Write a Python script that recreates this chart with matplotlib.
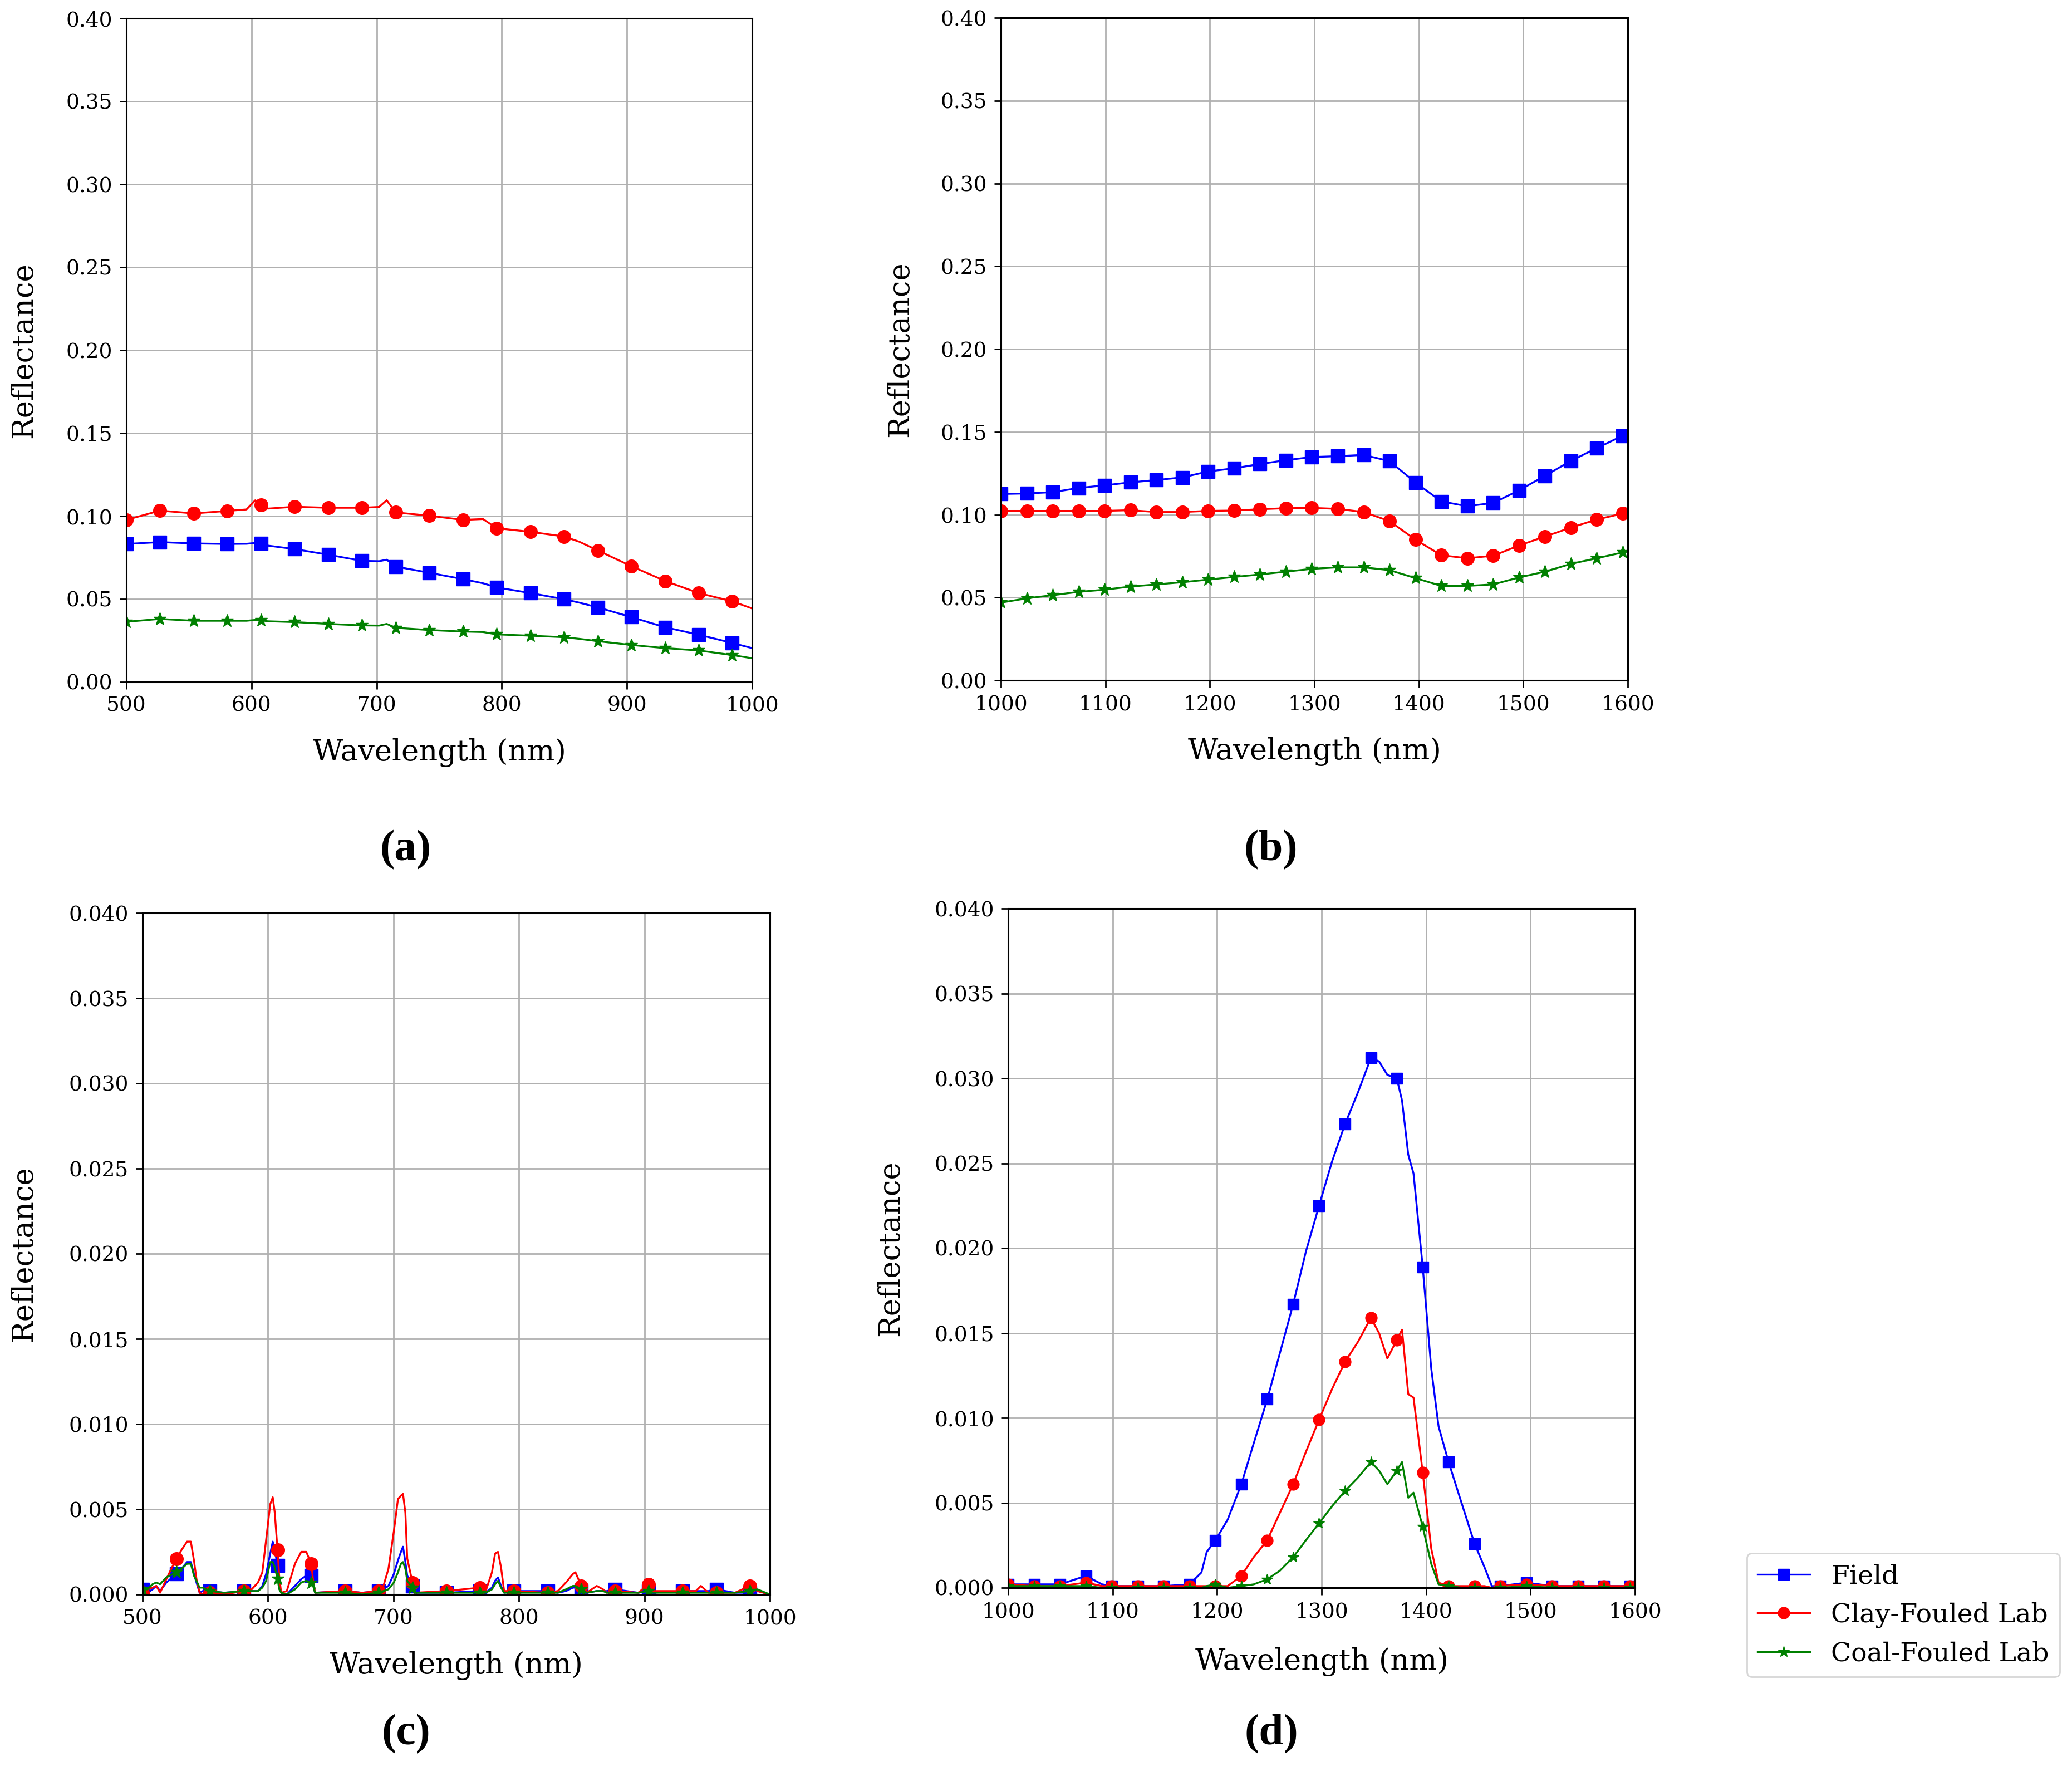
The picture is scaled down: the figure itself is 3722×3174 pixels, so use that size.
import matplotlib
matplotlib.use("Agg")
import matplotlib.pyplot as plt
from matplotlib.ticker import FormatStrFormatter

plt.rcParams['font.family'] = ['DejaVu Serif']

# ---------------- data ----------------
series_names = ["Field", "Clay-Fouled Lab", "Coal-Fouled Lab"]
series_colors = ["blue", "red", "green"]
series_markers = ["s", "o", "*"]

# marker wavelengths
mk_vnir = [500.0, 526.9, 553.8, 580.7, 607.6, 634.5, 661.4, 688.3, 715.2, 742.1,
           769.0, 795.9, 822.8, 849.7, 876.6, 903.5, 930.4, 957.3, 984.2]
mk_swir = [1000.0, 1024.8, 1049.6, 1074.4, 1099.2, 1124.0, 1148.8, 1173.6, 1198.4,
           1223.2, 1248.0, 1272.8, 1297.6, 1322.4, 1347.2, 1372.0, 1396.8, 1421.6,
           1446.4, 1471.2, 1496.0, 1520.8, 1545.6, 1570.4, 1595.2]

# (a) mean reflectance 500-1000 nm
wl_a = [500.0, 526.9, 553.8, 580.7, 596.0, 603.0, 607.6, 613.0, 634.5, 661.4,
        688.3, 702.0, 708.0, 715.2, 742.1, 769.0, 785.0, 795.9, 822.8, 849.7,
        862.0, 876.6, 903.5, 930.4, 957.3, 984.2, 1000.0]
field_a = [0.0832, 0.0843, 0.0835, 0.0832, 0.0833, 0.0838, 0.0835, 0.0822, 0.0801, 0.0767,
           0.0730, 0.0728, 0.0737, 0.0696, 0.0658, 0.0620, 0.0595, 0.0570, 0.0536, 0.0499,
           0.0478, 0.0450, 0.0391, 0.0330, 0.0285, 0.0235, 0.0204]
clay_a = [0.0977, 0.1033, 0.1016, 0.1031, 0.1040, 0.1095, 0.1067, 0.1045, 0.1056, 0.1050,
          0.1050, 0.1055, 0.1095, 0.1022, 0.1002, 0.0977, 0.0982, 0.0927, 0.0905, 0.0877,
          0.0845, 0.0793, 0.0698, 0.0609, 0.0536, 0.0486, 0.0443]
coal_a = [0.0363, 0.0380, 0.0369, 0.0369, 0.0369, 0.0374, 0.0372, 0.0366, 0.0361, 0.0350,
          0.0341, 0.0340, 0.0350, 0.0327, 0.0313, 0.0304, 0.0301, 0.0287, 0.0279, 0.0270,
          0.0260, 0.0246, 0.0223, 0.0204, 0.0190, 0.0162, 0.0143]

# (b) mean reflectance 1000-1600 nm
wl_b = [1000.0, 1024.8, 1049.6, 1074.4, 1099.2, 1124.0, 1148.8, 1173.6, 1198.4,
        1223.2, 1248.0, 1272.8, 1297.6, 1322.4, 1347.2, 1372.0, 1396.8, 1421.6,
        1446.4, 1471.2, 1496.0, 1520.8, 1545.6, 1570.4, 1595.2, 1600.0]
field_b = [0.1125, 0.1128, 0.1136, 0.1161, 0.1177, 0.1195, 0.1209, 0.1225, 0.1261, 0.1280,
           0.1306, 0.1329, 0.1348, 0.1353, 0.1361, 0.1323, 0.1194, 0.1080, 0.1051, 0.1071,
           0.1147, 0.1235, 0.1325, 0.1402, 0.1477, 0.1490]
clay_b = [0.1023, 0.1023, 0.1023, 0.1023, 0.1023, 0.1027, 0.1016, 0.1016, 0.1023, 0.1025,
          0.1033, 0.1039, 0.1041, 0.1035, 0.1016, 0.0961, 0.0849, 0.0755, 0.0737, 0.0752,
          0.0814, 0.0868, 0.0922, 0.0971, 0.1007, 0.1015]
coal_b = [0.0469, 0.0495, 0.0514, 0.0534, 0.0547, 0.0566, 0.0579, 0.0592, 0.0608, 0.0624,
          0.0639, 0.0656, 0.0673, 0.0682, 0.0682, 0.0665, 0.0617, 0.0570, 0.0570, 0.0579,
          0.0621, 0.0656, 0.0703, 0.0737, 0.0772, 0.0780]

# (c) standard deviation 500-1000 nm
wl_c = [500.0, 504.0, 508.0, 511.0, 514.0, 519.0, 526.9, 531.0, 535.5, 538.5,
        541.0, 543.0, 545.5, 548.0, 553.8, 565.0, 580.7, 587.0, 592.0, 595.5,
        598.5, 601.8, 603.8, 605.4, 607.6, 609.0, 610.5, 615.0, 621.5, 626.5,
        630.5, 634.5, 636.0, 637.5, 661.4, 675.0, 688.3, 692.0, 696.0, 700.3,
        703.6, 706.0, 707.6, 709.5, 711.0, 715.2, 716.5, 742.1, 769.0, 773.5,
        778.5, 781.0, 783.3, 785.7, 788.2, 795.9, 822.8, 831.0, 837.5, 843.0,
        845.0, 849.7, 854.0, 862.0, 867.0, 870.0, 876.6, 895.0, 903.5, 907.0,
        930.4, 941.0, 945.0, 948.0, 951.0, 957.3, 972.0, 984.2, 990.0, 1000.0]
field_c = [0.0003, 0.0001, 0.0003, 0.0005, 0.0002, 0.0007, 0.0012, 0.0015, 0.0019, 0.0019,
           0.0012, 0.0007, 0.0001, 0.0002, 0.0002, 0.0001, 0.0002, 0.0002, 0.0002, 0.0005,
           0.0012, 0.0024, 0.0031, 0.0026, 0.0017, 0.0004, 0.0001, 0.0000, 0.0005, 0.0009,
           0.0011, 0.0011, 0.0006, 0.0001, 0.0002, 0.0001, 0.0002, 0.0003, 0.0005, 0.0012,
           0.0020, 0.0025, 0.0028, 0.0019, 0.0011, 0.0005, 0.0001, 0.0001, 0.0002, 0.0001,
           0.0004, 0.0008, 0.0010, 0.0005, 0.0001, 0.0002, 0.0002, 0.0001, 0.0002, 0.0004,
           0.0004, 0.0002, 0.0001, 0.0002, 0.0002, 0.0002, 0.0003, 0.0001, 0.0002, 0.0001,
           0.0002, 0.0002, 0.0002, 0.0002, 0.0002, 0.0003, 0.0001, 0.0001, 0.0002, 0.0000]
clay_c = [0.0001, 0.0003, 0.0004, 0.0005, 0.0001, 0.0009, 0.0021, 0.0026, 0.0031, 0.0031,
          0.0020, 0.0009, 0.0001, 0.0000, 0.0001, 0.0000, 0.0002, 0.0003, 0.0007, 0.0013,
          0.0032, 0.0053, 0.0057, 0.0048, 0.0026, 0.0010, 0.0001, 0.0002, 0.0018, 0.0025,
          0.0025, 0.0018, 0.0008, 0.0001, 0.0002, 0.0001, 0.0002, 0.0005, 0.0015, 0.0037,
          0.0056, 0.0058, 0.0059, 0.0048, 0.0021, 0.0007, 0.0001, 0.0002, 0.0004, 0.0002,
          0.0013, 0.0024, 0.0025, 0.0016, 0.0002, 0.0002, 0.0001, 0.0002, 0.0007, 0.0012,
          0.0013, 0.0005, 0.0001, 0.0005, 0.0003, 0.0001, 0.0002, 0.0001, 0.0006, 0.0002,
          0.0002, 0.0002, 0.0005, 0.0003, 0.0001, 0.0001, 0.0001, 0.0005, 0.0002, 0.0000]
coal_c = [0.0003, 0.0003, 0.0006, 0.0007, 0.0006, 0.0010, 0.0013, 0.0015, 0.0018, 0.0018,
          0.0011, 0.0008, 0.0004, 0.0004, 0.0002, 0.0001, 0.0002, 0.0002, 0.0002, 0.0004,
          0.0008, 0.0019, 0.0019, 0.0016, 0.0009, 0.0003, 0.0001, 0.0000, 0.0003, 0.0007,
          0.0008, 0.0007, 0.0005, 0.0001, 0.0001, 0.0000, 0.0001, 0.0002, 0.0003, 0.0007,
          0.0013, 0.0018, 0.0019, 0.0015, 0.0008, 0.0004, 0.0001, 0.0001, 0.0001, 0.0001,
          0.0003, 0.0006, 0.0008, 0.0004, 0.0001, 0.0001, 0.0001, 0.0001, 0.0003, 0.0005,
          0.0005, 0.0003, 0.0001, 0.0002, 0.0002, 0.0001, 0.0001, 0.0001, 0.0002, 0.0001,
          0.0001, 0.0001, 0.0001, 0.0001, 0.0001, 0.0001, 0.0001, 0.0002, 0.0003, 0.0000]

# (d) standard deviation 1000-1600 nm
wl_d = [1000.0, 1024.8, 1049.6, 1074.4, 1090.0, 1099.2, 1124.0, 1148.8, 1173.6, 1185.0,
        1190.0, 1198.4, 1210.0, 1223.2, 1235.0, 1248.0, 1260.0, 1272.8, 1285.0, 1297.6,
        1310.0, 1322.4, 1335.0, 1347.2, 1355.0, 1363.0, 1372.0, 1377.0, 1383.0, 1388.0,
        1396.8, 1405.0, 1412.0, 1421.6, 1435.0, 1446.4, 1456.0, 1463.0, 1471.2, 1496.0,
        1520.8, 1545.6, 1570.4, 1595.2, 1600.0]
field_d = [0.0002, 0.0002, 0.0002, 0.0007, 0.0002, 0.0001, 0.0001, 0.0001, 0.0002, 0.0009,
           0.0021, 0.0028, 0.0040, 0.0061, 0.0085, 0.0111, 0.0138, 0.0167, 0.0198, 0.0225,
           0.0251, 0.0273, 0.0292, 0.0312, 0.0310, 0.0302, 0.0300, 0.0287, 0.0255, 0.0244,
           0.0189, 0.0129, 0.0095, 0.0074, 0.0048, 0.0026, 0.0012, 0.0001, 0.0001, 0.0003,
           0.0001, 0.0001, 0.0001, 0.0001, 0.0001]
clay_d = [0.0002, 0.0001, 0.0001, 0.0003, 0.0001, 0.0001, 0.0001, 0.0001, 0.0001, 0.0001,
          0.0001, 0.0001, 0.0001, 0.0007, 0.0018, 0.0028, 0.0044, 0.0061, 0.0080, 0.0099,
          0.0117, 0.0133, 0.0145, 0.0159, 0.0150, 0.0135, 0.0146, 0.0152, 0.0114, 0.0112,
          0.0068, 0.0023, 0.0003, 0.0001, 0.0001, 0.0001, 0.0001, 0.0000, 0.0001, 0.0002,
          0.0001, 0.0001, 0.0001, 0.0001, 0.0001]
coal_d = [0.0001, 0.0001, 0.0001, 0.0001, 0.0000, 0.0000, 0.0000, 0.0000, 0.0000, 0.0000,
          0.0001, 0.0002, 0.0000, 0.0001, 0.0002, 0.0005, 0.0010, 0.0018, 0.0028, 0.0038,
          0.0048, 0.0057, 0.0065, 0.0074, 0.0069, 0.0061, 0.0069, 0.0074, 0.0053, 0.0056,
          0.0036, 0.0014, 0.0002, 0.0001, 0.0000, 0.0000, 0.0000, 0.0000, 0.0000, 0.0001,
          0.0000, 0.0000, 0.0000, 0.0000, 0.0000]

x_ticks_vnir = [500, 600, 700, 800, 900, 1000]
x_ticks_swir = [1000, 1100, 1200, 1300, 1400, 1500, 1600]
y_ticks_mean = [0.00, 0.05, 0.10, 0.15, 0.20, 0.25, 0.30, 0.35, 0.40]
y_ticks_std = [0.000, 0.005, 0.010, 0.015, 0.020, 0.025, 0.030, 0.035, 0.040]
panel_labels = ["(a)", "(b)", "(c)", "(d)"]

# ---------------- figure ----------------
W, H = 3722, 3174
fig = plt.figure(figsize=(W / 100, H / 100), dpi=100)


def frac(l, t, r, b):
    return [l / W, 1 - b / H, (r - l) / W, (b - t) / H]


panels = [
    dict(rect=frac(227, 33, 1351, 1225), wl=wl_a, ys=[field_a, clay_a, coal_a], mk=mk_vnir,
         xlim=(500, 1000), xt=x_ticks_vnir, yt=y_ticks_mean, fmt="%.2f", ms=17,
         ylab_x=-0.164, xlab_y=-0.1065, lab=(729, 1527)),
    dict(rect=frac(1798, 32, 2924, 1222), wl=wl_b, ys=[field_b, clay_b, coal_b], mk=mk_swir,
         xlim=(1000, 1600), xt=x_ticks_swir, yt=y_ticks_mean, fmt="%.2f", ms=17,
         ylab_x=-0.161, xlab_y=-0.1076, lab=(2283, 1527)),
    dict(rect=frac(256, 1640, 1383, 2864), wl=wl_c, ys=[field_c, clay_c, coal_c], mk=mk_vnir,
         xlim=(500, 1000), xt=x_ticks_vnir, yt=y_ticks_std, fmt="%.3f", ms=17,
         ylab_x=-0.189, xlab_y=-0.1046, lab=(729, 3115)),
    dict(rect=frac(1811, 1632, 2937, 2852), wl=wl_d, ys=[field_d, clay_d, coal_d], mk=mk_swir,
         xlim=(1000, 1600), xt=x_ticks_swir, yt=y_ticks_std, fmt="%.3f", ms=15,
         ylab_x=-0.188, xlab_y=-0.109, lab=(2284, 3115)),
]

handles = None
for i, p in enumerate(panels):
    ax = fig.add_axes(p["rect"])
    idx = [k for k, w in enumerate(p["wl"]) if w in p["mk"]]
    hs = []
    for y, name, col, mkr in zip(p["ys"], series_names, series_colors, series_markers):
        h, = ax.plot(p["wl"], y, color=col, lw=2.4, marker=mkr, markersize=p["ms"],
                     markevery=idx, markeredgecolor=col, markerfacecolor=col, label=name)
        hs.append(h)
    handles = hs
    ax.set_xlim(*p["xlim"])
    ax.set_ylim(p["yt"][0], p["yt"][-1])
    ax.set_xticks(p["xt"])
    ax.set_yticks(p["yt"])
    ax.yaxis.set_major_formatter(FormatStrFormatter(p["fmt"]))
    ax.grid(True, color="#b0b0b0", lw=2.0)
    ax.set_axisbelow(True)
    for s in ax.spines.values():
        s.set_linewidth(2.2)
        s.set_color("black")
    ax.tick_params(labelsize=27, length=9, width=2.0, pad=9)
    ax.set_xlabel("Wavelength (nm)", fontsize=38)
    ax.set_ylabel("Reflectance", fontsize=38)
    ax.xaxis.set_label_coords(0.5, p["xlab_y"])
    ax.xaxis.label.set_va("center")
    ax.yaxis.set_label_coords(p["ylab_x"], 0.5)
    ax.yaxis.label.set_va("center")
    ax.yaxis.label.set_ha("center")
    fig.text(p["lab"][0] / W, 1 - p["lab"][1] / H, panel_labels[i], ha="center", va="center",
             fontsize=57, fontweight="bold", family="Liberation Serif")

leg = fig.legend(handles=handles, loc="upper left", bbox_to_anchor=(3138 / W, 1 - 2790 / H),
                 borderaxespad=0, fontsize=34, frameon=True, markerscale=1.0)
leg.get_frame().set_linewidth(2.0)

fig.savefig("out.png", dpi=100)
